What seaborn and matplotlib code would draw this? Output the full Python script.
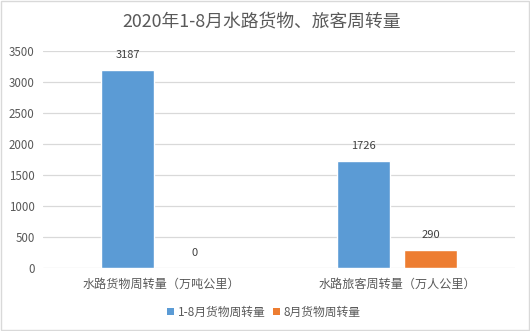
import matplotlib
matplotlib.use("Agg")
import matplotlib.pyplot as plt
import seaborn as sns
import pandas as pd
from matplotlib.patches import Rectangle, Patch

# Data
categories = ["水路货物周转量（万吨公里）", "水路旅客周转量（万人公里）"]
series_names = ["1-8月货物周转量", "8月货物周转量"]
cumulative_values = [3187, 1726]
august_values = [0, 290]
y_ticks = [0, 500, 1000, 1500, 2000, 2500, 3000, 3500]

colors = ["#5B9BD5", "#ED7D31"]
text_color = "#595959"

df = pd.DataFrame({
    "category": categories * 2,
    "series": [series_names[0]] * 2 + [series_names[1]] * 2,
    "value": cumulative_values + august_values,
})

sns.set_theme(style="white")
plt.rcParams["font.family"] = ["Noto Sans CJK SC", "DejaVu Sans"]

fig = plt.figure(figsize=(5.30, 3.31), dpi=100)
ax = fig.add_axes([43 / 530, 1 - 268 / 331, 472 / 530, 217 / 331])

sns.barplot(data=df, x="category", y="value", hue="series",
            palette=colors, saturation=1, width=0.568, gap=0.21,
            ax=ax, legend=False, errorbar=None)

ax.set_ylim(0, 3500)
ax.set_xlim(-0.5, 1.5)
ax.set_yticks(y_ticks)
ax.set_yticklabels([str(t) for t in y_ticks], color=text_color, fontsize=8.3)
ax.yaxis.grid(True, color="#D9D9D9", linewidth=0.9)
ax.set_axisbelow(True)
for s in ax.spines.values():
    s.set_visible(False)
ax.tick_params(axis="both", length=0)
ax.tick_params(axis="y", pad=6)
ax.tick_params(axis="x", pad=7)
ax.set_xticks(range(len(categories)))
ax.set_xticklabels(categories, color=text_color, fontsize=8.7)
ax.set_xlabel("")
ax.set_ylabel("")

# Value labels above each bar
for container in ax.containers:
    for bar in container:
        h = bar.get_height()
        ax.annotate(f"{h:.0f}", (bar.get_x() + bar.get_width() / 2, h),
                    xytext=(0, 11), textcoords="offset points",
                    ha="center", va="center", fontsize=8, color="#404040")

fig.text(0.493, 1 - 21 / 331, "2020年1-8月水路货物、旅客周转量",
         ha="center", va="center", fontsize=12.8, color=text_color)

handles = [Patch(facecolor=c, edgecolor="none") for c in colors]
fig.legend(handles, series_names, loc="center", bbox_to_anchor=(0.498, 1 - 312 / 331),
           ncol=2, frameon=False, fontsize=8.5, handlelength=0.6, handleheight=0.6,
           handletextpad=0.3, columnspacing=0.6, labelcolor=text_color)

# Light frame around the whole chart
fig.patches.append(Rectangle((0.001, 0.002), 0.997, 0.996, transform=fig.transFigure,
                             fill=False, edgecolor="#D9D9D9", linewidth=1))

fig.savefig("out.png", dpi=100)
